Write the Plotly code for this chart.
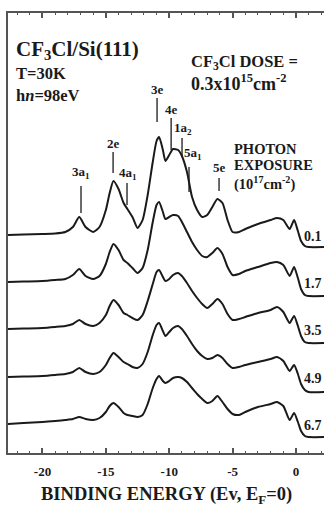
import plotly.graph_objects as go

# ---------------- data ----------------
energy = [-22.8, -21.5, -20.0, -19.0, -18.2, -17.6, -17.1, -16.6, -16.0, -15.5,
          -15.0, -14.7, -14.4, -14.0, -13.6, -13.3, -12.9, -12.5, -12.1, -11.7,
          -11.3, -11.0, -10.8, -10.5, -10.3, -10.0, -9.7, -9.3, -9.0, -8.6,
          -8.2, -7.8, -7.4, -7.0, -6.6, -6.2, -5.8, -5.4, -5.0, -4.5,
          -4.0, -3.0, -2.0, -1.5, -1.0, -0.5, -0.15, 0.15, 0.4, 0.7,
          1.0, 2.3]

exposures = ["0.1", "1.7", "3.5", "4.9", "6.7"]
offsets = [218, 171, 124, 76, 29]

h_01 = [0, 0.5, 1, 1.5, 3, 8, 18, 8, 3, 8,
        25, 42, 54, 46, 32, 26, 18, 7, 15, 40,
        73, 94, 98, 85, 74, 80, 86, 85, 79, 63,
        38, 25, 18, 20, 28, 36, 32, 15, 3, 3,
        6, 11, 15, 17, 15, 6, 15, 4, -6, -11,
        -12, -12]
h_17 = [0, 0.5, 1, 2, 3, 7, 13, 6, 3, 6,
        18, 30, 38, 32, 22, 19, 14, 9, 14, 32,
        60, 77, 80, 70, 63, 65, 67, 66, 60, 50,
        40, 32, 26, 25, 29, 34, 28, 15, 7, 8,
        11, 15, 19, 20, 17, 6, 15, 4, -7, -13,
        -14, -14]
h_35 = [0, 0.5, 1, 2, 3, 5, 9, 5, 3, 6,
        14, 23, 29, 24, 16, 14, 11, 9, 14, 28,
        45, 57, 59, 52, 48, 50, 54, 56, 53, 46,
        38, 31, 25, 21, 25, 30, 25, 15, 9, 10,
        12, 16, 19, 22, 17, 6, 13, 3, -7, -13,
        -14, -14]
h_49 = [0, 0.5, 1, 2, 3, 5, 9, 5, 3, 5,
        12, 19, 24, 20, 15, 13, 10, 9, 13, 25,
        42, 52, 54, 46, 41, 45, 49, 51, 48, 41,
        33, 26, 21, 18, 19, 22, 19, 13, 9, 10,
        12, 15, 18, 20, 16, 6, 12, 3, -7, -13,
        -15, -15]
h_67 = [0, 1, 2, 3, 4, 5, 7, 5, 4, 6,
        12, 18, 21, 17, 11, 9, 8, 7, 9, 20,
        36, 45, 48, 43, 41, 43, 46, 47, 46, 42,
        36, 30, 25, 21, 23, 28, 22, 15, 10, 9,
        12, 17, 20, 22, 18, 4, 11, 2, -7, -12,
        -13, -13]
spectra = [h_01, h_17, h_35, h_49, h_67]

# peak assignments (label, energy)
peak_names = ["3a<sub>1</sub>", "2e", "4a<sub>1</sub>", "3e", "4e", "1a<sub>2</sub>", "5a<sub>1</sub>", "5e"]
peak_energy = [-16.96, -14.43, -13.33, -10.96, -9.85, -8.99, -8.44, -6.07]

tick_vals = [-20, -15, -10, -5, 0]
tick_text = ["-20", "-15", "-10", "-5", "0"]

# ---------------- figure ----------------
FONT = "Liberation Serif, Times New Roman, serif"
INK = "#1a1a1a"
AX = "#555555"

fig = go.Figure()
for name, off, h in zip(exposures, offsets, spectra):
    fig.add_trace(go.Scatter(
        x=energy, y=[off + v for v in h], mode="lines",
        line=dict(color=INK, width=2, shape="spline", smoothing=0.6),
        name=name, showlegend=False, hoverinfo="skip"))

# peak marker lines and labels (layout positions)
line_spans = [(240, 267), (280, 301), (248, 270), (331, 355), (303, 335), (296, 315), (261, 286), (262, 275)]
label_pos = [(281, 0.0), (310, 0.0), (280, 0.05), (364, 0.0), (344, 0.0), (325, 0.1), (300, 0.35), (286, 0.0)]
for name, e, (y0, y1), (ly, dx) in zip(peak_names, peak_energy, line_spans, label_pos):
    fig.add_shape(type="line", x0=e, x1=e, y0=y0, y1=y1, xref="x", yref="y",
                  line=dict(color=INK, width=1.3))
    fig.add_annotation(x=e + dx, y=ly, xref="x", yref="y", text="<b>%s</b>" % name,
                       showarrow=False, font=dict(family=FONT, size=13, color=INK),
                       xanchor="center", yanchor="middle")

# exposure labels
for name, off in zip(exposures, offsets):
    fig.add_annotation(x=0.5, y=off - 1, xref="x", yref="y", text="<b>%s</b>" % name,
                       showarrow=False, font=dict(family=FONT, size=14, color=INK),
                       xanchor="left", yanchor="middle")

texts = [
    ("<b>CF<sub>3</sub>Cl/Si(111)</b>", -22.25, 403, 21),
    ("<b>T=30K</b>", -22.25, 380, 16.5),
    ("<b>h<i>n</i>=98eV</b>", -22.25, 358, 16.5),
    ("<b>CF<sub>3</sub>Cl DOSE =</b>", -8.45, 391, 16.5),
    ("<b>0.3x10<sup>15</sup>cm<sup>-2</sup></b>", -8.45, 371, 18),
    ("<b>PHOTON</b>", -5.05, 304, 14.5),
    ("<b>EXPOSURE</b>", -5.05, 288, 14.5),
    ("<b>(10<sup>17</sup>cm<sup>-2</sup>)</b>", -5.05, 270, 14.5),
]
for t, x, y, s in texts:
    fig.add_annotation(x=x, y=y, xref="x", yref="y", text=t, showarrow=False,
                       font=dict(family=FONT, size=s, color=INK),
                       xanchor="left", yanchor="middle")

fig.add_annotation(x=0.5, y=-0.097, xref="paper", yref="paper",
                   text="<b>BINDING ENERGY (Ev, E<sub>F</sub>=0)</b>", showarrow=False,
                   font=dict(family=FONT, size=18.5, color=INK),
                   xanchor="center", yanchor="middle")

fig.update_xaxes(range=[-22.72, 2.21], showline=True, linecolor=AX, linewidth=1.5,
                 mirror="ticks", ticks="inside", ticklen=5, tickwidth=1.5, tickcolor=AX,
                 tickvals=tick_vals, ticktext=["<b>%s</b>" % t for t in tick_text],
                 showgrid=False, zeroline=False, ticklabelstandoff=6,
                 tickfont=dict(family=FONT, size=13, color=INK),
                 minor=dict(dtick=1, ticks="inside", ticklen=2.5, tickwidth=1.3, tickcolor=AX, showgrid=False))
fig.update_yaxes(range=[0, 440], showline=True, linecolor=AX, linewidth=1.5, mirror=False,
                 ticks="", showticklabels=False, showgrid=False, zeroline=False)

fig.update_layout(width=324, height=506, margin=dict(l=8, r=0, t=13, b=53),
                  paper_bgcolor="white", plot_bgcolor="white",
                  font=dict(family=FONT, color=INK))

fig.write_html("out.html")
